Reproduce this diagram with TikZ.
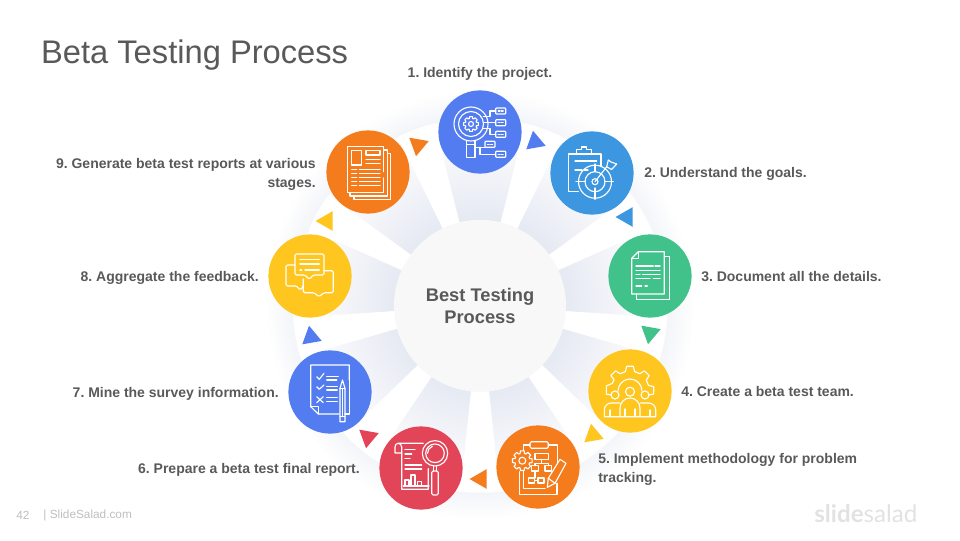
\documentclass[tikz,border=0pt]{standalone}
\usepackage{fontspec}
\setmainfont{Liberation Sans}
\newfontfamily\logofont{Lato}
\usetikzlibrary{shapes.geometric}

\definecolor{stepblue}{RGB}{82,124,240}
\definecolor{stepsky}{RGB}{61,151,224}
\definecolor{stepgreen}{RGB}{65,194,138}
\definecolor{stepyellow}{RGB}{255,198,31}
\definecolor{steporange}{RGB}{245,124,28}
\definecolor{stepred}{RGB}{227,69,88}
\definecolor{textgrey}{RGB}{89,89,89}
\definecolor{footgrey}{RGB}{190,190,190}

% 25bp is the rim of the disc
\pgfdeclareradialshading{ringglow}{\pgfpoint{0bp}{0bp}}{%
  rgb(0bp)=(0.9,0.915,0.95);
  rgb(10bp)=(0.9,0.915,0.95);
  rgb(15bp)=(0.945,0.953,0.972);
  rgb(20bp)=(0.995,0.995,0.998);
  rgb(21.7bp)=(1,1,1);
  rgb(21.8bp)=(0.955,0.96,0.975);
  rgb(25bp)=(1,1,1);
  rgb(50bp)=(1,1,1)}

\tikzset{
  stepcircle/.style={circle, minimum size=2.08cm, inner sep=0pt},
  steptri/.style={regular polygon, regular polygon sides=3, minimum size=0.57cm, inner sep=0pt, outer sep=0pt},
  steplabel/.style={font=\fontsize{9.95pt}{13.2pt}\selectfont\bfseries, text=textgrey, inner sep=0pt},
  oneliner/.style={text height=9pt, text depth=1pt},
  iconscope/.style={x=0.025cm, y=-0.025cm, white, line width=0.8pt, line join=round, line cap=round},
}

% white gap between two grey sectors
\newcommand{\bandwedge}[1]{\fill[white, shift={(mid)}] (0,0) -- (#1-6:4.68) arc[start angle=#1-6, end angle=#1+6, radius=4.68] -- cycle;}
% small tag with two dots
\newcommand{\tagbox}[2]{
  \draw[rounded corners=0.5pt] (#1-5,#2-3) rectangle (#1+5,#2+3);
  \draw (#1-2.5,#2) -- (#1-0.7,#2) (#1+0.7,#2) -- (#1+2.5,#2);
}
\newcommand{\cogwheel}[3]{
  \draw[shift={(#1,#2)}] (-11:#3) \foreach \a in {0,45,...,315} { -- (\a-11:#3) -- (\a+11:#3) -- (\a+17:#3*0.76) -- (\a+28:#3*0.76)} -- cycle;
}

\begin{document}
\frenchspacing
\begin{tikzpicture}
    \useasboundingbox (0,0) rectangle (24,13.5);
    \coordinate (mid) at (12,5.875);

    \node (glowdisc) [circle, minimum size=10.75cm, inner sep=0pt, shade, shading=ringglow] at (mid) {};
    \bandwedge{70} \bandwedge{30} \bandwedge{-10} \bandwedge{-50} \bandwedge{-90}
    \bandwedge{-130} \bandwedge{-170} \bandwedge{150} \bandwedge{110}

    \node (hub) [circle, minimum size=4.3cm, inner sep=0pt, fill={rgb,255:red,248;green,248;blue,248}, align=center, text=textgrey, font=\fontsize{13pt}{15.6pt}\selectfont\bfseries] at ([yshift=-0.02cm]mid) {Best Testing\\Process};

    \node (title) [anchor=west, inner sep=0pt, text=textgrey, font=\fontsize{23.25pt}{26pt}\selectfont] at (1.02,12.13) {Beta Testing Process};

    % step circles
    \node (identify) [stepcircle, fill=stepblue] at (12,10.2) {};
    \node (goals) [stepcircle, fill=stepsky] at (14.8,9.175) {};
    \node (details) [stepcircle, fill=stepgreen] at (16.25,6.6) {};
    \node (team) [stepcircle, fill=stepyellow] at (15.75,3.725) {};
    \node (method) [stepcircle, fill=steporange] at (13.45,1.825) {};
    \node (finalrep) [stepcircle, fill=stepred] at (10.525,1.8) {};
    \node (survey) [stepcircle, fill=stepblue] at (8.25,3.7) {};
    \node (feedback) [stepcircle, fill=stepyellow] at (7.75,6.6) {};
    \node (reports) [stepcircle, fill=steporange] at (9.2,9.2) {};

    % triangles between the steps
    \node (triA) [steptri, fill=stepblue, rotate=-110] at (13.375,9.95) {};
    \node (triB) [steptri, fill=stepsky, rotate=-150] at (15.675,8.075) {};
    \node (triC) [steptri, fill=stepgreen, rotate=170] at (16.25,5.175) {};
    \node (triD) [steptri, fill=stepyellow, rotate=130] at (14.825,2.625) {};
    \node (triE) [steptri, fill=steporange, rotate=90] at (12.025,1.525) {};
    \node (triF) [steptri, fill=stepred, rotate=50] at (9.2,2.575) {};
    \node (triG) [steptri, fill=stepblue, rotate=10] at (7.775,5.075) {};
    \node (triH) [steptri, fill=stepyellow, rotate=-30] at (8.175,7.975) {};
    \node (triI) [steptri, fill=steporange, rotate=-70] at (10.45,9.875) {};

    % labels
    \node (identifytxt) [steplabel, oneliner] at (12,11.71) {1. Identify the project.};
    \node (goalstxt) [steplabel, oneliner, anchor=west] at (16.1,9.2) {2. Understand the goals.};
    \node (detailstxt) [steplabel, oneliner, anchor=west] at (17.525,6.6) {3. Document all the details.};
    \node (teamtxt) [steplabel, oneliner, anchor=west] at (17.025,3.725) {4. Create a beta test team.};
    \node (methodtxt) [steplabel, anchor=west, align=left] at (14.95,1.76) {5. Implement methodology for problem\\tracking.};
    \node (finalreptxt) [steplabel, oneliner, anchor=east] at (9,1.8) {6. Prepare a beta test final report.};
    \node (surveytxt) [steplabel, oneliner, anchor=east] at (6.975,3.7) {7. Mine the survey information.};
    \node (feedbacktxt) [steplabel, oneliner, anchor=east] at (6.475,6.6) {8. Aggregate the feedback.};
    \node (reportstxt) [steplabel, anchor=east, align=right] at (7.9,9.14) {9. Generate beta test reports at various\\stages.};

    % icon 1
    \begin{scope}[shift={(identify.center)}, iconscope]
        \draw (-9,-8) circle[radius=17] (-9,-8) circle[radius=12.5];
        \cogwheel{-9}{-8}{7.5}
        \draw (-9,-8) circle[radius=2.5];
        \draw (-13.3,9) -- (-13.3,25.3) -- (-5,25.3) -- (-5,9);
        \draw (-13.3,12.5) -- (-5,12.5);
        \draw (3.3,-15.3) -- (10,-15.3) -- (10,-21) -- (15.7,-21);
        \draw (4.5,-9.3) -- (15.7,-9.3);
        \draw (3.3,-3.7) -- (10,-3.7) -- (10,2.3) -- (15.7,2.3);
        \draw (-5,15.3) -- (5,15.3);
        \draw (0,15.3) -- (0,22.3) -- (15.7,22.3);
        \tagbox{20.7}{-21} \tagbox{20.7}{-9.3} \tagbox{20.7}{2.3} \tagbox{10}{12.3} \tagbox{20.7}{22.3}
    \end{scope}

    % icon 2
    \begin{scope}[shift={(goals.center)}, iconscope]
        \draw (9,-6.3) -- (9,-19) -- (-23.7,-19) -- (-23.7,18.7) -- (-13.7,18.7);
        \draw (-15.3,-19) -- (-15.3,-23.7) -- (-10.3,-23.7) -- (-10.3,-26) -- (-5.3,-26) -- (-5.3,-23.7) -- (-0.3,-23.7) -- (-0.3,-19);
        \draw (-17,-12) -- (4.7,-12) (-17,-3) -- (-10,-3) (-7.7,-3) -- (-4,-3);
        \draw (3,8.7) circle[radius=16.5] (3,8.7) circle[radius=10] (3,8.7) circle[radius=3];
        \draw (3,-9) -- (3,-1.5) (3,15) -- (3,26.3) (-16,8.7) -- (-7,8.7) (13,8.7) -- (21.3,8.7);
        \draw (3,8.7) -- (14.7,-6.3);
        \draw (14.7,-6.3) -- (16.3,-13) -- (19,-11) -- (24.7,-9) -- (21,-5) -- (19.5,-3.5) -- cycle;
    \end{scope}

    % icon 3
    \begin{scope}[shift={(details.center)}, iconscope]
        \draw (-11.7,-24.3) -- (14.3,-24.3) -- (14.3,18) -- (-18.3,18) -- (-18.3,-17.7) -- cycle;
        \draw (-11.7,-24.3) -- (-11.7,-17.7) -- (-18.3,-17.7);
        \draw (14.3,-19.3) -- (19.3,-19.3) -- (19.3,23.3) -- (-13.3,23.3) -- (-13.3,18);
        \draw (-14,-10) -- (3.3,-10) (5,-10) -- (10,-10);
        \draw (-14,-5.3) -- (10,-5.3);
        \draw (-14,-1.7) -- (-10,-1.7) (-7.3,-1.7) -- (10,-1.7);
        \draw (-14,2.3) -- (0,2.3) (3.3,2.3) -- (10,2.3);
        \draw (-14,10) -- (-8.3,10) (-5,10) -- (-2.7,10);
    \end{scope}

    % icon 4
    \begin{scope}[shift={(team.center)}, iconscope]
        \draw[shift={(0,-1)}] (165:19) -- (170:24) -- (-170:24) -- (-160:19) -- (-147:19) \foreach \a in {-135,-90,-45} { -- (\a-8:24) -- (\a+8:24) -- (\a+14:19) -- (\a+31:19)} -- (-8:24) -- (10:24) -- (15:19);
        \draw (-12,0) arc[start angle=180, end angle=360, radius=12];
        \draw (0,0.7) circle[radius=4.5] (-15,4) circle[radius=4] (15,4) circle[radius=4];
        \draw (-10,25.7) -- (-10,17) arc[start angle=180, end angle=360, radius=10] -- (10,25.7) -- cycle;
        \draw (-10,25.7) -- (-25.7,25.7) -- (-25.7,19) arc[start angle=180, end angle=270, radius=7] -- (-10.5,12);
        \draw (10,25.7) -- (25.7,25.7) -- (25.7,19) arc[start angle=360, end angle=270, radius=7] -- (10.5,12);
        \draw (-20,25.7) -- (-20,19) (20,25.7) -- (20,19) (-5,25.7) -- (-5,18) (5,25.7) -- (5,18);
    \end{scope}

    % icon 5
    \begin{scope}[shift={(method.center)}, iconscope]
        \draw[rounded corners=1pt] (-8,-25.3) rectangle (10.3,-18.7);
        \draw (10.3,-22) -- (19.3,-22) -- (19.3,-3.7);
        \draw (-8,-22) -- (-14.7,-22) -- (-14.7,-16.5);
        \draw (-14.7,3.5) -- (-14.7,21.3) -- (7,21.3);
        \draw (19,16.3) -- (19,27.3) -- (-18.7,27.3) -- (-18.7,4.7);
        \cogwheel{-15.7}{-6.3}{10}
        \draw (-15.7,-6.3) circle[radius=3.5];
        \draw (-3,-13.7) rectangle (10.3,-7.7);
        \draw (3.7,-7.7) -- (3.7,-3.7) (-3,-1.3) -- (-3,-3.7) -- (10.3,-3.7) -- (10.3,-1.3);
        \draw (-6.3,-1.3) rectangle (0.3,4) (7,-1.3) rectangle (13.7,4);
        \draw (-3,4) -- (-3,11);
        \draw (-9.7,11) rectangle (-3.3,16) (0,11) rectangle (6,16) (-3.3,13.5) -- (0,13.5);
        \draw (9.3,20.3) -- (10.3,11.3) -- (22,-7.7) -- (28,-3.7) -- (17,16.3) -- cycle;
        \draw (10.3,11.3) -- (17,16.3);
    \end{scope}

    % icon 6
    \begin{scope}[shift={(finalrep.center)}, iconscope]
        \draw (2.3,-24.7) -- (-23,-24.7) to[out=180, in=90] (-26,-21) -- (-26,-15) -- (-19.3,-15);
        \draw (-23,-24.7) to[out=0, in=90] (-19.3,-21) -- (-19.3,21.3) -- (7.3,21.3) -- (7.3,0.5);
        \draw (14,-14.7) circle[radius=12.7] (14,-14.7) circle[radius=9.3];
        \draw (6.5,-14.7) arc[start angle=180, end angle=250, radius=7.5];
        \draw (12.7,-2) -- (12.7,3) (15.3,-2) -- (15.3,3);
        \draw[rounded corners=1pt] (10.7,3) rectangle (17.3,27);
        \draw (-16,-18.7) -- (-6,-18.7) (-16,-14) -- (-9.3,-14) (-16,-9.7) -- (-11,-9.7);
        \draw (-16,-3) -- (0.7,-3) (-16,1) -- (0.7,1);
        \draw (-17.7,18) -- (8,18);
        \draw (-16,18) -- (-16,12) -- (-12,12) -- (-12,18);
        \draw (-10,18) -- (-10,7) -- (-6,7) -- (-6,18);
        \draw (-3.7,18) -- (-3.7,13.7) -- (0.7,13.7) -- (0.7,18);
    \end{scope}

    % icon 7
    \begin{scope}[shift={(survey.center)}, iconscope]
        \draw (19.3,-12) -- (19.3,-27) -- (-19.3,-27) -- (-19.3,14.7) -- (-11.7,22) -- (9.3,22);
        \draw (-19.3,14.7) -- (-11.7,14.7) -- (-11.7,22);
        \draw (19.3,-12) -- (19.3,22) -- (15,22);
        \draw (-13.3,-15.3) -- (-10.7,-12.7) -- (-6,-18.7);
        \draw (-13.3,-5.3) -- (-10.7,-2.7) -- (-6,-7);
        \draw (-13.3,4.7) -- (-6.7,10.7) (-13.3,10.7) -- (-6.7,4.7);
        \draw (-3.3,-15.3) -- (8.3,-15.3) (-3.3,-12) -- (6.7,-12);
        \draw (-3.3,-5.3) -- (7.3,-5.3) (-3.3,-2) -- (7.3,-2);
        \draw (-3.3,5.3) -- (7.3,5.3) (-3.3,9.7) -- (7.3,9.7);
        \draw (10,29.7) -- (10,-3.7) -- (12.5,-12) -- (15,-3.7) -- (15,29.7) -- cycle;
        \draw (10,-3.7) -- (15,-3.7) (10,24.7) -- (15,24.7) (12.5,-3.7) -- (12.5,24.7);
    \end{scope}

    % icon 8
    \begin{scope}[shift={(feedback.center)}, iconscope]
        \draw[rounded corners=1pt] (-15,-22) -- (14,-22) -- (14,-1) -- (3.3,-1) -- (-0.7,3.3) -- (-5,-1) -- (-15,-1) -- cycle;
        \draw (-10,-16.7) -- (9.3,-16.7) (-10,-12) -- (9.3,-12);
        \draw (-10,-6) -- (-8.3,-6) (-5,-6) -- (9.3,-6);
        \draw[rounded corners=1pt] (-15,-11) -- (-24,-11) -- (-24,10) -- (-13.3,10) -- (-10,14) -- (-6,10) -- (-6.7,10);
        \draw[rounded corners=1pt] (14,-5.3) -- (23.3,-5.3) -- (23.3,16.7) -- (14,16.7) -- (9,20.7) -- (4,16.7) -- (-6.7,16.7) -- (-6.7,3);
    \end{scope}

    % icon 9
    \begin{scope}[shift={(reports.center)}, iconscope]
        \draw (15.3,-0.3) -- (15.3,-25.3) -- (-20.3,-25.3) -- (-20.3,20.7) -- (15.3,20.7) -- (15.3,6);
        \draw (15.5,-22) -- (19.3,-22) -- (19.3,24) -- (-18,24) -- (-18,20.7);
        \draw (19.3,-18.7) -- (22.7,-18.7) -- (22.7,27.3) -- (-14,27.3) -- (-14,24);
        \draw (-16.3,-21.3) rectangle (-6.3,-7);
        \draw (-2,-21.3) rectangle (12,-17);
        \draw (-2,-12.7) -- (12,-12.7) (-2,-8.7) -- (12,-8.7);
        \draw (-16.3,-2.7) -- (-11.3,-2.7) (-8.7,-2.7) -- (12,-2.7);
        \draw (-16.3,1.3) -- (-11.3,1.3) (-8.7,1.3) -- (12,1.3);
        \draw (-16.3,5.3) -- (-11.3,5.3) (-8.7,5.3) -- (12,5.3);
        \draw (-16.3,9.7) -- (-11.3,9.7) (-8.7,9.7) -- (12,9.7);
        \draw (-16.3,13.7) -- (-11.3,13.7) (-8.7,13.7) -- (12,13.7);
    \end{scope}

    % footer
    \node (pagenum) [anchor=west, inner sep=0pt, text=footgrey, font=\fontsize{8.4pt}{10pt}\selectfont] at (0.4,0.62) {42};
    \node (sitename) [anchor=west, inner sep=0pt, text=footgrey, font=\fontsize{8.4pt}{10pt}\selectfont] at (1.08,0.62) {| SlideSalad.com};
    \node (logo) [anchor=west, inner sep=0pt, text={rgb,255:red,226;green,226;blue,226}, font=\logofont\fontsize{17.2pt}{20pt}\selectfont] at (20.35,0.66) {\textbf{slide}salad};
\end{tikzpicture}
\end{document}
